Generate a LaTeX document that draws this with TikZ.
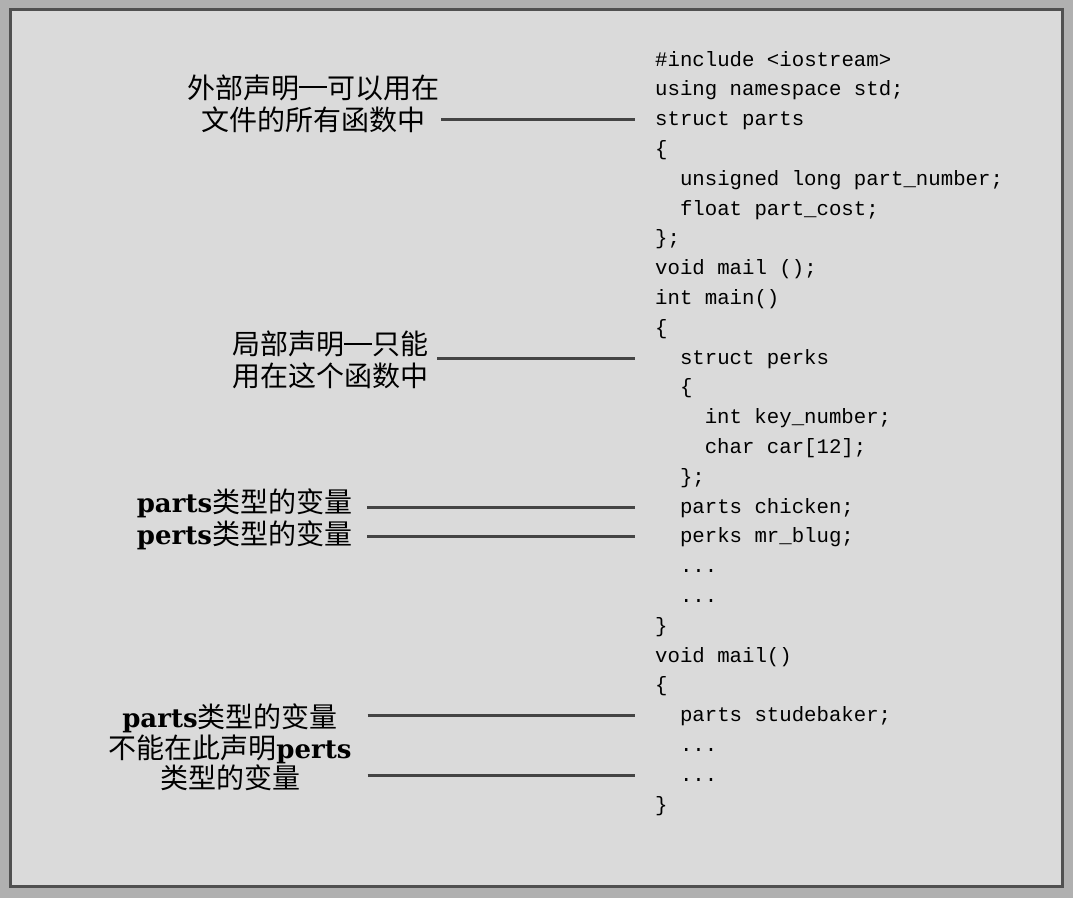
\documentclass[tikz,border=0pt]{standalone}
\usepackage{fontspec}
\usepackage{tikz}
\usepackage{xcolor}
\usetikzlibrary{
    calc,
    positioning
}
\newfontfamily\cjk{Noto Sans CJK SC}
\newfontfamily\srcfont{Liberation Mono}
\newfontfamily\typefont{DejaVu Serif}
\newcommand{\tname}[1]{{\typefont\bfseries\fontsize{26}{30}\selectfont #1}}
\newcommand{\cjkdash}{\rule[0.36em]{1em}{0.06em}}
\definecolor{outerbg}{HTML}{B0B0B0}
\definecolor{panel}{HTML}{DADADA}
\definecolor{framegray}{HTML}{505050}
\definecolor{leadergray}{HTML}{444444}

\tikzset{
    codeline/.style={anchor=base west, inner sep=0pt, text height=12pt, text depth=0pt,
        font=\srcfont\fontsize{20.7}{29.8}\selectfont},
    note/.style={align=center, inner sep=0pt, font=\cjk\fontsize{28}{32}\selectfont},
    leader/.style={draw=leadergray, line width=3pt}
}

\begin{document}
\begin{tikzpicture}[x=1pt, y=-1pt]
    \useasboundingbox (0, 0) rectangle (1073, 898);
    \fill[outerbg] (0, 0) rectangle (1073, 898);
    \draw[framegray, line width=3pt, fill=panel] (10.5, 9.5) rectangle (1062.5, 886.5);

    % program text, one node per line
    \foreach \lvl/\src [count=\i] in {
        0/{\#include <iostream>},
        0/{using namespace std;},
        0/{struct parts},
        0/{\{},
        2/{unsigned long part\_number;},
        2/{float part\_cost;},
        0/{\};},
        0/{void mail ();},
        0/{int main()},
        0/{\{},
        2/{struct perks},
        2/{\{},
        4/{int key\_number;},
        4/{char car[12];},
        2/{\};},
        2/{parts chicken;},
        2/{perks mr\_blug;},
        2/{...},
        2/{...},
        0/{\}},
        0/{void mail()},
        0/{\{},
        2/{parts studebaker;},
        2/{...},
        2/{...},
        0/{\}}}
        \node[codeline] (l\i) at ({655 + 12.4*\lvl}, {66 + 29.8*(\i - 1)}) {\src};

    \coordinate (margin) at (635, 0);

    \node[note] (extern) at (313, 103.5) {外部声明\cjkdash 可以用在\\文件的所有函数中};
    \node[note] (local) at (330, 360) {局部声明\cjkdash 只能\\用在这个函数中};
    \node[note] (vars) at (244.5, 519) {\tname{parts}类型的变量\\\tname{perts}类型的变量};
    \node[note, font=\cjk\fontsize{28}{30.5}\selectfont] (nodecl) at (230, 747.5)
        {\tname{parts}类型的变量\\不能在此声明\tname{perts}\\类型的变量};

    \draw[leader]
    ([xshift=2pt]extern.east |- l3) -- (margin |- l3)
    ([xshift=9pt]local.east |- l11) -- (margin |- l11)
    ([xshift=15pt]vars.east |- l16) -- (margin |- l16)
    ([xshift=15pt]vars.east |- l17) -- (margin |- l17)
    ([xshift=16pt]nodecl.east |- l23) -- (margin |- l23)
    ([xshift=16pt]nodecl.east |- l25) -- (margin |- l25);
\end{tikzpicture}
\end{document}
